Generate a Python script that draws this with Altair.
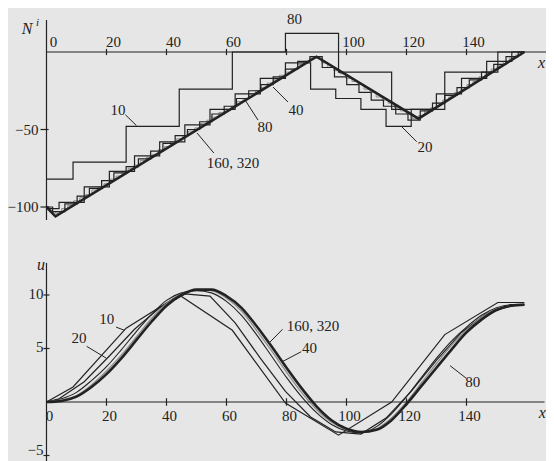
import altair as alt
import numpy as np
import pandas as pd

# ---------------- data ----------------
L_END = 159.3  # length of the x interval

# Top panel: nodal values N^i (cells centred on equally spaced nodes)
N10 = [-82, -71, -48, -24, 0, 12, -13, -37, -13, 0]
N20 = [-101, -97, -87, -77, -67, -58, -47, -37, -27, -17,
       -7, -24, -30, -37, -48, -37, -27, -17, -6, 0]
N40 = [-100, -103, -98, -93, -88, -83, -78, -74, -69, -64,
       -59, -54, -50, -45, -40, -35, -30, -25, -21, -16,
       -11, -6, -3, -10, -16, -21, -26, -31, -35, -40,
       -44, -38, -33, -28, -23, -18, -13, -8, -3, 0]
N80 = [-100, -103, -104, -101, -99, -96, -94, -92, -89, -87,
       -85, -82, -80, -77, -75, -73, -70, -68, -66, -63,
       -61, -58, -56, -54, -51, -49, -46, -44, -42, -39,
       -37, -35, -32, -30, -27, -25, -23, -20, -18, -15,
       -13, -11, -8, -6, -4, -4, -7, -10, -12, -14,
       -17, -19, -21, -24, -26, -29, -31, -33, -36, -38,
       -40, -43, -41, -38, -36, -33, -31, -29, -26, -24,
       -21, -19, -16, -14, -11, -9, -6, -4, -2, 0]
THICK_X = [0, 3, 90, 124, 159.3]
THICK_N = [-100, -106, -3, -43, 0]

# Bottom panel: u(x)
XB10 = [0, 8.85, 26.55, 44.25, 61.95, 79.65, 97.35, 115.05, 132.75, 150.45, 159.3]
U10 = [0, 1.4, 6.9, 10.0, 6.7, -0.1, -3.1, 0.0, 6.3, 9.3, 9.3]
XB20 = [0, 4.19, 12.58, 20.96, 29.34, 37.73, 46.11, 54.49, 62.88, 71.26, 79.65,
        88.03, 96.41, 104.8, 113.18, 121.56, 129.95, 138.33, 146.71, 155.1, 159.3]
U20 = [0, 0.3, 1.9, 4.3, 6.8, 8.8, 10.1, 9.9, 7.4, 4.1, 1.0,
       -1.4, -2.8, -3.0, -1.5, 1.0, 3.9, 6.5, 8.3, 9.0, 9.1]
XB = [0, 5, 10, 15, 20, 25, 30, 35, 40, 45, 50, 55, 60, 65, 70, 75, 80,
      85, 90, 95, 100, 105, 110, 115, 120, 125, 130, 135, 140, 145, 150, 155, 159.3]
U40 = [0, 0.3, 0.9, 2.0, 3.3, 4.9, 6.6, 8.2, 9.5, 10.2, 10.4, 10.2, 9.4, 8.1, 6.3, 4.3, 2.3,
       0.5, -1.0, -2.1, -2.7, -2.9, -2.3, -1.1, 0.5, 2.3, 4.1, 5.7, 7.0, 8.1, 8.8, 9.1, 9.1]
U80 = [0, 0.2, 0.6, 1.6, 2.9, 4.4, 6.1, 7.8, 9.2, 10.1, 10.5, 10.4, 9.7, 8.5, 6.7, 4.8, 2.8,
       0.9, -0.7, -1.9, -2.6, -2.8, -2.5, -1.5, 0.0, 1.8, 3.6, 5.3, 6.7, 7.9, 8.7, 9.0, 9.1]
U160 = [0, 0.1, 0.5, 1.4, 2.6, 4.1, 5.8, 7.5, 9.0, 10.0, 10.5, 10.5, 9.9, 8.8, 7.1, 5.2, 3.2,
        1.3, -0.4, -1.7, -2.5, -2.8, -2.6, -1.7, -0.2, 1.5, 3.2, 4.9, 6.5, 7.7, 8.6, 9.0, 9.1]

# ticks
TOP_X_TICKS = [20, 40, 60, 80, 100, 120, 140]
TOP_X_LABELS = ["0", "20", "40", "60", "100", "120", "140"]
TOP_X_LABEL_POS = [0, 20, 40, 60, 100, 120, 140]
TOP_Y_TICKS = [-50, -100]
TOP_Y_LABELS = ["\u221250", "\u2212100"]
BOT_X_TICKS = [20, 40, 60, 80, 100, 120, 140]
BOT_X_LABELS = ["0", "20", "40", "60", "80", "100", "120", "140"]
BOT_X_LABEL_POS = [0, 20, 40, 60, 80, 100, 120, 140]
BOT_Y_TICKS = [10, 5, -5]
BOT_Y_LABELS = ["10", "5"]
BOT_Y_LABEL_POS = [10, 5]

# curve labels and leader lines
TOP_TXT = ["10", "160, 320", "80", "40", "20"]
TOP_TXT_X = [23.8, 62.2, 72.8, 83.2, 126.2]
TOP_TXT_N = [-37.4, -71.6, -48.4, -37.4, -61.3]
TOP_LEAD_X1 = [26.3, 50.2, 66.2, 75.5, 118.4]
TOP_LEAD_N1 = [-40.5, -52.3, -31.0, -22.6, -48.2]
TOP_LEAD_X2 = [30.0, 55.8, 70.5, 80.5, 123.4]
TOP_LEAD_N2 = [-47.5, -65.2, -43.9, -32.3, -57.9]

BOT_TXT = ["10", "20", "160, 320", "40", "80"]
BOT_TXT_X = [20.1, 10.8, 88.8, 87.7, 142.1]
BOT_TXT_U = [7.8, 5.95, 7.1, 5.0, 1.9]
BOT_LEAD_X1 = [23.2, 13.4, 78.7, 84.9, 140.0]
BOT_LEAD_U1 = [7.0, 5.2, 6.8, 4.7, 2.2]
BOT_LEAD_X2 = [26.0, 19.9, 74.5, 78.8, 134.5]
BOT_LEAD_U2 = [6.7, 4.1, 5.6, 3.8, 3.4]

# ---------------- styling ----------------
FONT = "Liberation Serif"
INK = "#222222"
GREY = "#8c8c8c"
BG = "#e6e6e6"
FS = 15

W, H = 538, 453
xs = alt.Scale(domain=[-12.83, 166.5], nice=False, zero=False)
ys_top = alt.Scale(domain=[-263.87, 28.39], nice=False, zero=False)
ys_bot = alt.Scale(domain=[-5.514, 36.822], nice=False, zero=False)

X = alt.X("x:Q", scale=xs, axis=None)
YT = alt.Y("y:Q", scale=ys_top, axis=None)
YB = alt.Y("y:Q", scale=ys_bot, axis=None)


def nodal(values, name):
    return pd.DataFrame({"x": np.linspace(0, L_END, len(values)), "y": values, "s": name})


def seg_df(x1, y1, x2, y2):
    return pd.DataFrame({"x": x1, "y": y1, "x2": x2, "y2": y2})


def rules(df, Y, width=1.2, color=INK):
    return alt.Chart(df).mark_rule(color=color, strokeWidth=width).encode(
        x=X, x2="x2:Q", y=Y, y2="y2:Q")


def texts(df, Y, **kw):
    base = dict(font=FONT, fontSize=FS, color=INK)
    base.update(kw)
    return alt.Chart(df).mark_text(**base).encode(x=X, y=Y, text="t:N")


# ---------------- top panel ----------------
top_dark = pd.concat([nodal(N10, "10"), nodal(N20, "20"), nodal(N40, "40")])
top_grey = nodal(N80, "80")
top_thick = pd.DataFrame({"x": THICK_X, "y": THICK_N})

top_axes = pd.concat([
    seg_df([0, 0], [0, 20.6], [167, 0], [0, -108.4]),
    seg_df(TOP_X_TICKS, [2.0] * len(TOP_X_TICKS), TOP_X_TICKS, [-2.0] * len(TOP_X_TICKS)),
    seg_df([-2.0] * len(TOP_Y_TICKS), TOP_Y_TICKS, [0.7] * len(TOP_Y_TICKS), TOP_Y_TICKS),
])
top_leads = seg_df(TOP_LEAD_X1, TOP_LEAD_N1, TOP_LEAD_X2, TOP_LEAD_N2)

top = alt.layer(
    alt.Chart(top_grey).mark_line(interpolate="step", color=GREY, strokeWidth=1.0).encode(X, YT),
    alt.Chart(top_dark).mark_line(interpolate="step", color=INK, strokeWidth=1.2).encode(
        X, YT, detail="s:N"),
    alt.Chart(top_thick).mark_line(color=INK, strokeWidth=2.6).encode(X, YT),
    rules(top_axes, YT),
    rules(top_leads, YT, width=1.0),
    texts(pd.DataFrame({"x": TOP_X_LABEL_POS, "y": [0] * len(TOP_X_LABEL_POS), "t": TOP_X_LABELS}),
          YT, dx=7, dy=-10),
    texts(pd.DataFrame({"x": [80], "y": [0], "t": ["80"]}), YT, dx=8, dy=-33),
    texts(pd.DataFrame({"x": [0] * len(TOP_Y_TICKS), "y": TOP_Y_TICKS, "t": TOP_Y_LABELS}),
          YT, align="right", dx=-8),
    texts(pd.DataFrame({"x": TOP_TXT_X, "y": TOP_TXT_N, "t": TOP_TXT}), YT),
    texts(pd.DataFrame({"x": [-6.5], "y": [14.8], "t": ["N"]}), YT, fontStyle="italic", fontSize=16),
    texts(pd.DataFrame({"x": [-3.0], "y": [19.0], "t": ["i"]}), YT, fontStyle="italic", fontSize=11),
    texts(pd.DataFrame({"x": [165.0], "y": [-7.3], "t": ["x"]}), YT, fontStyle="italic", fontSize=16),
)

# ---------------- bottom panel ----------------
bot_dark = pd.concat([
    pd.DataFrame({"x": XB10, "y": U10, "s": "10"}),
    pd.DataFrame({"x": XB20, "y": U20, "s": "20"}),
])
bot_smooth = pd.DataFrame({"x": XB, "y": U40, "s": "40"})
bot_grey = pd.DataFrame({"x": XB, "y": U80, "s": "80"})
bot_thick = pd.DataFrame({"x": XB, "y": U160, "s": "160"})

bot_axes = pd.concat([
    seg_df([0, 0], [0, 13.0], [166, 0], [0, -5.6]),
    seg_df(BOT_X_TICKS, [0.35] * len(BOT_X_TICKS), BOT_X_TICKS, [-0.35] * len(BOT_X_TICKS)),
    seg_df([-1.0] * len(BOT_Y_TICKS), BOT_Y_TICKS, [1.0] * len(BOT_Y_TICKS), BOT_Y_TICKS),
])
bot_leads = seg_df(BOT_LEAD_X1, BOT_LEAD_U1, BOT_LEAD_X2, BOT_LEAD_U2)

bottom = alt.layer(
    alt.Chart(bot_dark).mark_line(color=INK, strokeWidth=1.2).encode(X, YB, detail="s:N"),
    alt.Chart(bot_smooth).mark_line(interpolate="monotone", color=INK, strokeWidth=1.1).encode(X, YB),
    alt.Chart(bot_grey).mark_line(interpolate="monotone", color=GREY, strokeWidth=1.3).encode(X, YB),
    alt.Chart(bot_thick).mark_line(interpolate="monotone", color=INK, strokeWidth=2.6).encode(X, YB),
    rules(bot_axes, YB),
    rules(bot_leads, YB, width=1.0),
    texts(pd.DataFrame({"x": BOT_X_LABEL_POS, "y": [0] * len(BOT_X_LABEL_POS), "t": BOT_X_LABELS}),
          YB, dx=3, dy=14),
    texts(pd.DataFrame({"x": [0] * len(BOT_Y_LABEL_POS), "y": BOT_Y_LABEL_POS, "t": BOT_Y_LABELS}),
          YB, align="right", dx=-3, dy=-1),
    texts(pd.DataFrame({"x": [0], "y": [-5], "t": ["\u22125"]}),
          YB, align="right", dx=-3, dy=-6),
    texts(pd.DataFrame({"x": BOT_TXT_X, "y": BOT_TXT_U, "t": BOT_TXT}), YB),
    texts(pd.DataFrame({"x": [-1.8], "y": [12.8], "t": ["u"]}), YB, fontStyle="italic", fontSize=16),
    texts(pd.DataFrame({"x": [165.3], "y": [-1.0], "t": ["x"]}), YB, fontStyle="italic", fontSize=16),
)

chart = (
    alt.layer(top, bottom)
    .resolve_scale(y="independent")
    .properties(width=W, height=H, padding=0,
                autosize=alt.AutoSizeParams(type="none"), background=BG)
    .configure_view(strokeWidth=0)
)

chart.save("out.html", embed_options={"renderer": "svg", "actions": False})
